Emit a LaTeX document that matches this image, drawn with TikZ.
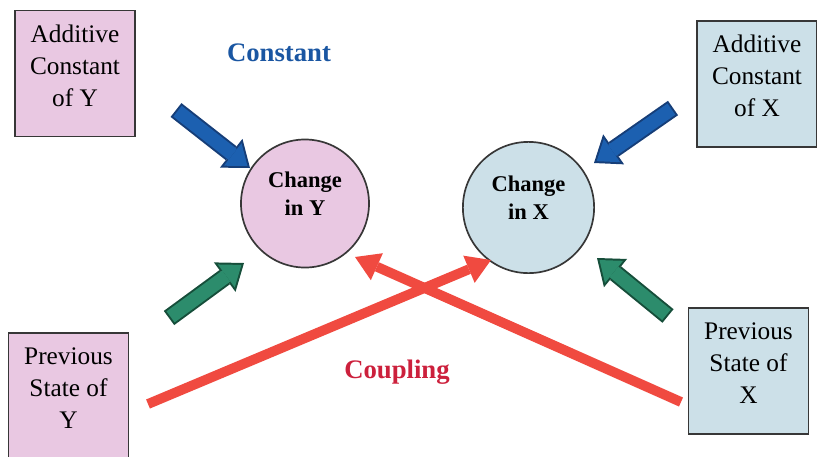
\documentclass[tikz,border=0pt]{standalone}
\usepackage{fontspec}
\setmainfont{Liberation Serif}
\usetikzlibrary{arrows.meta}

\definecolor{pinkfill}{RGB}{233,200,226}
\definecolor{bluefill}{RGB}{204,224,232}
\definecolor{boxline}{RGB}{55,55,55}
\definecolor{bluearr}{RGB}{28,96,176}
\definecolor{bluedk}{RGB}{22,62,120}
\definecolor{greenarr}{RGB}{44,140,108}
\definecolor{greendk}{RGB}{22,78,58}
\definecolor{redarr}{RGB}{240,74,64}
\definecolor{consttext}{RGB}{26,86,162}
\definecolor{couptext}{RGB}{204,32,60}

\begin{document}
\begin{tikzpicture}[x=0.025cm, y=-0.025cm]
    \tikzset{
      box/.style={draw=boxline, line width=1.2pt, minimum width=3cm, minimum height=3.15cm, inner sep=0pt, align=center, font=\fontsize{18}{22.7}\selectfont, text depth=11.4pt},
      change/.style={circle, draw=boxline, line width=1.2pt, inner sep=0pt, align=center, font=\bfseries\fontsize{16}{19.8}\selectfont, text depth=13.5pt},
      tag/.style={font=\bfseries\fontsize{19}{23}\selectfont},
      fat/.style={line width=12.5pt, -{Triangle[width=26pt,length=17pt,line width=0pt]}},
      fatin/.style={line width=9.7pt, shorten <=1.4pt, shorten >=2.3pt, -{Triangle[width=20.3pt,length=13.3pt,line width=0pt]}},
      coupler/.style={redarr, line width=7pt, -{Triangle[width=21pt,length=17pt,line width=0pt]}}
    }
    \useasboundingbox (0,0) rectangle (817,456);

    \node (acy) [box, fill=pinkfill] at (75,73.5) {Additive\\Constant\\of Y};
    \node (acx) [box, fill=bluefill] at (757,84) {Additive\\Constant\\of X};
    \node (psy) [box, fill=pinkfill] at (68.5,396) {Previous\\State of\\Y};
    \node (psx) [box, fill=bluefill] at (748.5,371) {Previous\\State of\\X};
    \node (chy) [change, fill=pinkfill, minimum size=3.2cm] at (305,203.5) {Change\\in Y};
    \node (chx) [change, fill=bluefill, minimum size=3.28cm] at (528.5,207.5) {Change\\in X};
    \node (lconst) [tag, text=consttext] at (279,53) {Constant};
    \node (lcoup) [tag, text=couptext] at (397,372) {Coupling};

    % arrow ends
    \coordinate (b1t) at (176,110);
    \coordinate (b1h) at (250,168);
    \coordinate (b2t) at (673,108);
    \coordinate (b2h) at (594,163);
    \coordinate (g1t) at (169,318);
    \coordinate (g1h) at (244,263);
    \coordinate (g2t) at (668,316);
    \coordinate (g2h) at (597,258);
    \coordinate (r1t) at (148,404);
    \coordinate (r1h) at (491,260);
    \coordinate (r2t) at (681,402);
    \coordinate (r2h) at (355,257);

    \draw[coupler] (r1t) -- (r1h);
    \draw[coupler] (r2t) -- (r2h);
    \foreach \from/\to/\edge/\body in {b1t/b1h/bluedk/bluearr, b2t/b2h/bluedk/bluearr, g1t/g1h/greendk/greenarr, g2t/g2h/greendk/greenarr} {
      \draw[fat, \edge] (\from) -- (\to);
      \draw[fatin, \body] (\from) -- (\to);
    }
\end{tikzpicture}
\end{document}
